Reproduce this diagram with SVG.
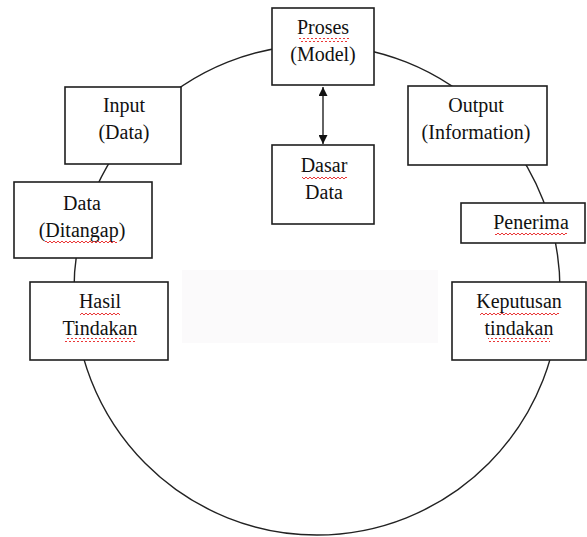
<svg xmlns="http://www.w3.org/2000/svg" width="587" height="537" viewBox="0 0 587 537">
<style>
.box{fill:#fff;stroke:#1e1e1e;stroke-width:1.6}
.t{font-family:"Liberation Serif","Times New Roman",serif;font-size:20px;fill:#111;text-anchor:middle}
.ln{fill:none;stroke:#222;stroke-width:1.4}
.sq{fill:url(#squig)}
</style>
<defs>
<pattern id="squig" patternUnits="userSpaceOnUse" width="4" height="4">
<path d="M0,3 L2,1 L4,3" fill="none" stroke="#e82020" stroke-width="0.9"/>
</pattern>
<marker id="ah" viewBox="0 0 10 10" refX="10" refY="5" markerWidth="10" markerHeight="9" markerUnits="userSpaceOnUse" orient="auto-start-reverse">
<path d="M0,0 L10,5 L0,10 Z" fill="#111"/>
</marker>
</defs>
<rect x="182" y="270" width="256" height="73" fill="#fbfafb"/>
<g id="connectors">
<ellipse class="ln" cx="317" cy="290" rx="243" ry="245"/>
<line class="ln" x1="323" y1="87" x2="323" y2="144" stroke-width="1.8" marker-start="url(#ah)" marker-end="url(#ah)"/>
</g>
<g id="proses">
<rect class="box" x="272" y="8" width="102" height="77"/>
<text class="t" x="323" y="34">Proses</text>
<text class="t" x="323" y="61">(Model)</text>
<rect class="sq" x="299" y="38" width="50" height="4"/>
</g>
<g id="input">
<rect class="box" x="65" y="87" width="116" height="77"/>
<text class="t" x="124" y="112">Input</text>
<text class="t" x="124" y="139">(Data)</text>
</g>
<g id="dasar-data">
<rect class="box" x="272" y="145" width="102" height="79"/>
<text class="t" x="324" y="172">Dasar</text>
<text class="t" x="324" y="199">Data</text>
<rect class="sq" x="302" y="175" width="45" height="4"/>
</g>
<g id="output">
<rect class="box" x="408" y="86" width="139" height="79"/>
<text class="t" x="476" y="112">Output</text>
<text class="t" x="476" y="139">(Information)</text>
</g>
<g id="data-ditangap">
<rect class="box" x="14" y="182" width="138" height="76"/>
<text class="t" x="82" y="210">Data</text>
<text class="t" x="82" y="237">(Ditangap)</text>
<rect class="sq" x="45" y="241" width="72" height="4"/>
</g>
<g id="penerima">
<rect class="box" x="461" y="203" width="124" height="40"/>
<text class="t" x="531" y="229">Penerima</text>
<rect class="sq" x="495" y="232" width="72" height="4"/>
</g>
<g id="hasil-tindakan">
<rect class="box" x="30" y="282" width="138" height="78"/>
<text class="t" x="100" y="308">Hasil</text>
<text class="t" x="100" y="335">Tindakan</text>
<rect class="sq" x="80" y="311" width="40" height="4"/>
<rect class="sq" x="65" y="338" width="70" height="4"/>
</g>
<g id="keputusan-tindakan">
<rect class="box" x="452" y="282" width="134" height="78"/>
<text class="t" x="519" y="308">Keputusan</text>
<text class="t" x="519" y="335">tindakan</text>
<rect class="sq" x="480" y="311" width="79" height="4"/>
<rect class="sq" x="488" y="338" width="62" height="4"/>
</g>
</svg>
